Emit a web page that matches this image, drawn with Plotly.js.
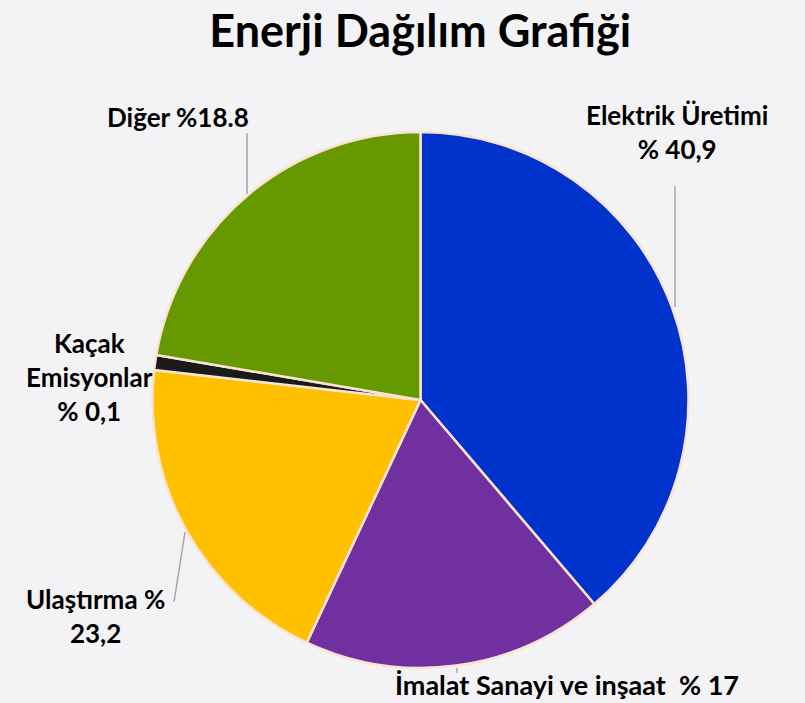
<!DOCTYPE html>
<html><head><meta charset="utf-8">
<script src="https://cdn.plot.ly/plotly-3.0.1.min.js"></script>
<style>html,body{margin:0;padding:0;background:#f3f3f5;}#chart{width:805px;height:703px;}</style>
</head><body><div id="chart"></div>
<script>
const categories = ["Elektrik Üretimi", "İmalat Sanayi ve inşaat", "Ulaştırma", "Kaçak Emisyonlar", "Diğer"];
const values = [38.75, 18.2, 19.8, 0.9, 22.3];
const labelTexts = ["Elektrik Üretimi<br>% 40,9", "İmalat Sanayi ve inşaat &nbsp;% 17", "Ulaştırma %<br>23,2", "Kaçak<br>Emisyonlar<br>% 0,1", "Diğer %18.8"];
const colors = ["#0033CC", "#7030A0", "#FFC000", "#1A1A1A", "#669900"];

const W = 805, H = 703;
const px = x => x / W, py = y => 1 - y / H;
const cx = 420.5, cy = 400, R = 268;

const labelPos = [
  {x: 677, y: 132, xanchor: "center", size: 26},
  {x: 393, y: 684, xanchor: "left", size: 27},
  {x: 95, y: 616, xanchor: "center", size: 26},
  {x: 89, y: 377, xanchor: "center", size: 26},
  {x: 178, y: 117, xanchor: "center", size: 26}
];
const leaders = [
  [675, 186, 675, 307],
  [457, 668, 457, 673],
  [174, 602, 185, 532],
  null,
  [247, 133, 247, 194]
];

const trace = {
  type: "pie",
  labels: categories,
  values: values,
  sort: false,
  direction: "clockwise",
  rotation: 0,
  textinfo: "none",
  hoverinfo: "label+percent",
  marker: {colors: colors, line: {color: "#FBE3D4", width: 2.5}},
  domain: {x: [px(cx - R), px(cx + R)], y: [py(cy + R), py(cy - R)]},
  showlegend: false
};

const annotations = labelTexts.map((t, i) => ({
  text: "<b>" + t + "</b>",
  x: px(labelPos[i].x), y: py(labelPos[i].y),
  xref: "paper", yref: "paper",
  xanchor: labelPos[i].xanchor, yanchor: "middle",
  showarrow: false, align: "center",
  font: {family: "Lato, 'Open Sans', sans-serif", size: labelPos[i].size, color: "#000"}
}));

const shapes = leaders.filter(l => l).map(l => ({
  type: "line", xref: "paper", yref: "paper",
  x0: px(l[0]), y0: py(l[1]), x1: px(l[2]), y1: py(l[3]),
  line: {color: "#A6A6A6", width: 1.5}
}));

const layout = {
  width: W, height: H,
  margin: {l: 0, r: 0, t: 0, b: 0},
  paper_bgcolor: "#f3f3f5",
  plot_bgcolor: "#f3f3f5",
  title: {text: "<b>Enerji Dağılım Grafiği</b>", x: 0.522, xanchor: "center", y: py(31), yanchor: "middle",
          font: {family: "Lato, 'Open Sans', sans-serif", size: 45, color: "#000"}},
  annotations: annotations,
  shapes: shapes
};

Plotly.newPlot("chart", [trace], layout, {displayModeBar: false, staticPlot: true});
</script></body></html>
